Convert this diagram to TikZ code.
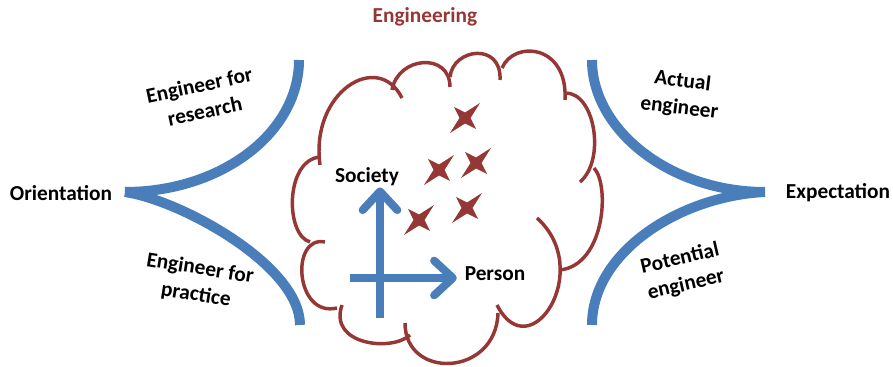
\documentclass[tikz,border=0pt]{standalone}
\usepackage{fontspec}
\setmainfont{Carlito}
\usetikzlibrary{arrows.meta}

\definecolor{cloudred}{RGB}{149,55,53}
\definecolor{barblue}{RGB}{74,126,187}

\tikzset{
  lbl/.style={font=\fontsize{16}{20}\selectfont\bfseries, inner sep=0.75pt, align=center},
  bracket/.style={draw=barblue, line width=7.5pt},
  puff/.style={draw=cloudred, line width=2.6pt},
  axis/.style={draw=barblue, line width=6pt, -{Straight Barb[length=14pt,width=26pt,round]}},
  twinkle/.pic={\fill[cloudred] (-15,-15) -- (0,-5.5) -- (11,-11) -- (5.5,0) -- (15,15) -- (0,5.5) -- (-11,11) -- (-5.5,0) -- cycle;}
}

\begin{document}
\begin{tikzpicture}[x=0.75pt,y=0.75pt,yscale=-1,xscale=1]
\useasboundingbox (0,0) rectangle (893,367);

%Shape: left bracket
\coordinate (oriTip) at (125,192);
\coordinate (resEnd) at (299,60);
\coordinate (praEnd) at (300,325);
\draw [bracket] (resEnd) .. controls (299,133) and (221,192) .. (oriTip);
\draw [bracket] (oriTip) .. controls (180,200) and (300,265) .. (praEnd);
%Shape: right bracket
\coordinate (expTip) at (765,192);
\coordinate (actEnd) at (592,60);
\coordinate (potEnd) at (592,325);
\draw [bracket] (actEnd) .. controls (592,130) and (670,192) .. (expTip);
\draw [bracket] (expTip) .. controls (680,196) and (592,252) .. (potEnd);

%Shape: cloud
\draw [puff] (320,165) .. controls (310,92) and (378,50) .. (402,98);
\draw [puff] (392,90) .. controls (398,56) and (450,52) .. (450,87);
\draw [puff] (450,77) .. controls (453,48) and (502,42) .. (500,80);
\draw [puff] (502,68) .. controls (514,40) and (568,44) .. (565,100);
\draw [puff] (565,93) .. controls (595,92) and (606,160) .. (580,182);
\draw [puff] (594,168) .. controls (610,185) and (605,265) .. (560,270);
\draw [puff] (537,218) .. controls (595,270) and (530,370) .. (497,305);
\draw [puff] (498,313) .. controls (496,377) and (405,380) .. (405,323);
\draw [puff] (410,335) .. controls (392,352) and (328,345) .. (342,305);
\draw [puff] (337,308) .. controls (295,318) and (290,235) .. (325,242);
\draw [puff] (310,242) .. controls (285,235) and (285,160) .. (320,157);

%Shape: stars
\pic at (465,118) {twinkle};
\pic at (476,163) {twinkle};
\pic at (439,170) {twinkle};
\pic at (467,208) {twinkle};
\pic at (419,220) {twinkle};

% Text Node
\node [lbl, text=cloudred] (eng) at (425,17) {Engineering};
% Text Node
\node [lbl] (ori) at (61,193) {Orientation};
% Text Node
\node [lbl] (exp) at (838,193) {Expectation};
% Text Node
\node [lbl, rotate=12] (res) at (202,98) {Engineer for\\research};
% Text Node
\node [lbl, rotate=-9] (pra) at (198,282) {Engineer for\\practice};
% Text Node
\node [lbl, rotate=-7] (act) at (681,95) {Actual\\engineer};
% Text Node
\node [lbl, rotate=13] (pot) at (683,272) {Potential\\engineer};
% Text Node
\node [lbl] (soc) at (367,177) {Society};
% Text Node
\node [lbl] (per) at (495,274) {Person};

%Straight Lines: axes
\coordinate (vBase) at (380,318);
\coordinate (hBase) at (350,278);
\draw [axis] (vBase) -- (vBase |- soc.south);
\draw [axis, shorten >=5pt] (hBase) -- (hBase -| per.west);
\end{tikzpicture}
\end{document}
